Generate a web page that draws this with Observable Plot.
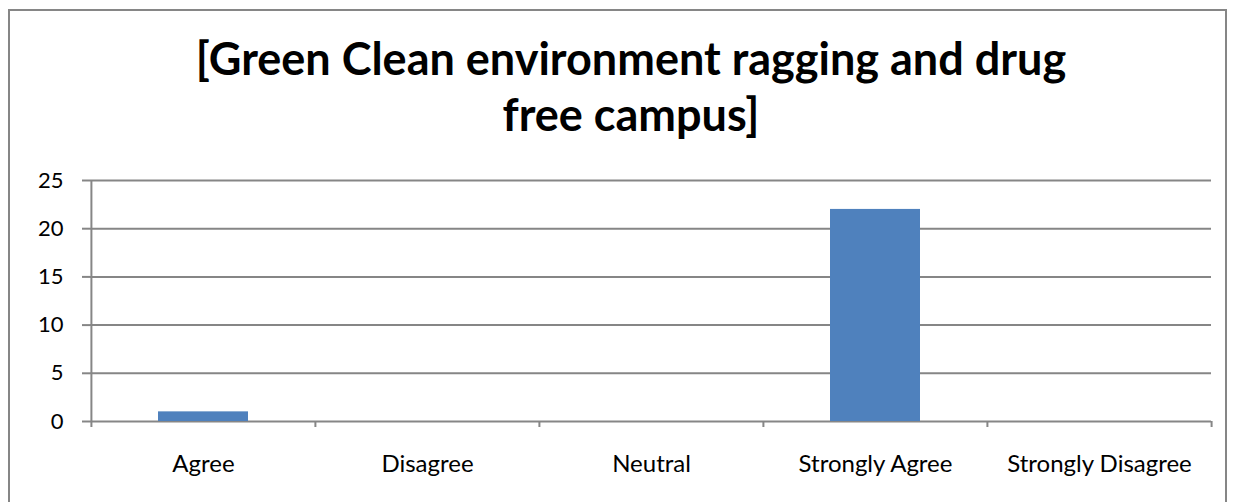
<!DOCTYPE html>
<html>
<head>
<meta charset="utf-8">
<script src="https://cdn.jsdelivr.net/npm/d3@7"></script>
<script src="https://cdn.jsdelivr.net/npm/@observablehq/plot@0.6"></script>
<style>
  html, body { margin: 0; padding: 0; background: #fff; }
  body { width: 1238px; height: 502px; position: relative; overflow: hidden; font-family: Lato, "DejaVu Sans", sans-serif; }
  #frame { position: absolute; left: 8px; top: 9px; width: 1219px; height: 520px; border: 2px solid #868686; box-sizing: border-box; }
  .title { position: absolute; left: 31px; width: 1200px; text-align: center; font-weight: bold; font-size: 45px; color: #000; white-space: nowrap; line-height: 1; }
  #chart { position: absolute; left: 0; top: 0; }
</style>
</head>
<body>
<div id="frame"></div>
<div id="t1" class="title"></div>
<div id="t2" class="title"></div>
<div id="chart"></div>
<script>
const categories = ["Agree", "Disagree", "Neutral", "Strongly Agree", "Strongly Disagree"];
const counts = [1, 0, 0, 22, 0];
const yTicks = [0, 5, 10, 15, 20, 25];
const titleLines = ["[Green Clean environment ragging and drug", "free campus]"];

const data = categories.map((c, i) => ({category: c, count: counts[i]}));

const W = 1238, H = 502, mL = 90, mR = 27, mT = 180, mB = 81;
const pInner = 0.6, pOuter = 0.3;
const step = (W - mL - mR) / (categories.length - pInner + 2 * pOuter);
const grid = "#868686";

document.getElementById("t1").textContent = titleLines[0];
document.getElementById("t2").textContent = titleLines[1];
document.getElementById("t1").style.top = "36px";
document.getElementById("t2").style.top = "92px";

const chart = Plot.plot({
  width: W,
  height: H,
  marginLeft: mL,
  marginRight: mR,
  marginTop: mT,
  marginBottom: mB,
  style: {fontFamily: "Lato, sans-serif", background: "transparent", overflow: "visible"},
  x: {type: "band", domain: categories, paddingInner: pInner, paddingOuter: pOuter, label: null},
  y: {domain: [0, 25], label: null},
  marks: [
    Plot.ruleY(yTicks, {stroke: grid, strokeWidth: 2}),
    Plot.barY(data, {x: "category", y: "count", fill: "#4f81bd"}),
    Plot.ruleX([categories[0]], {x: d => d, y1: 0, y2: 25, dx: -step / 2, stroke: grid, strokeWidth: 2}),
    Plot.ruleX(categories, {x: d => d, y1: 0, y2: 0, insetBottom: -6, dx: -step / 2, stroke: grid, strokeWidth: 2}),
    Plot.ruleX([categories[categories.length - 1]], {x: d => d, y1: 0, y2: 0, insetBottom: -6, dx: step / 2, stroke: grid, strokeWidth: 2}),
    Plot.axisY({ticks: yTicks, tickSize: 8, tickPadding: 19, fontSize: 22, stroke: grid, strokeWidth: 2, fill: "#000", label: null}),
    Plot.axisX({tickSize: 0, tickPadding: 33, fontSize: 24, fill: "#000", label: null})
  ]
});
document.getElementById("chart").appendChild(chart);
</script>
</body>
</html>
